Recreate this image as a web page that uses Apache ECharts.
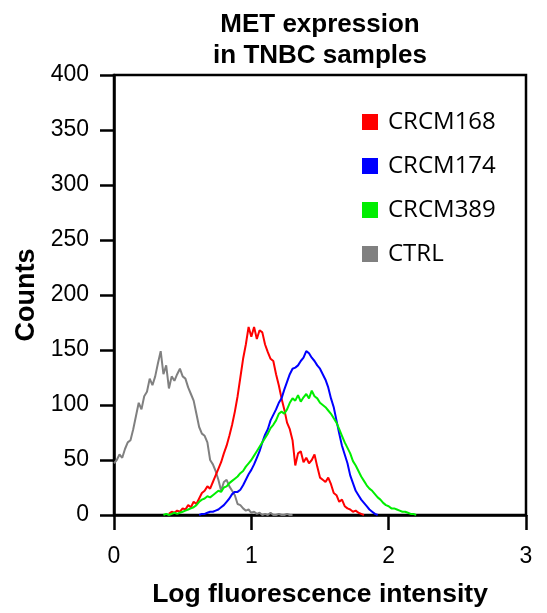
<!DOCTYPE html>
<html>
<head>
<meta charset="utf-8">
<script src="https://cdn.jsdelivr.net/npm/echarts@6/dist/echarts.min.js"></script>
<style>html,body{margin:0;padding:0;background:#fff}#c{width:547px;height:613px}</style>
</head>
<body>
<div id="c"></div>
<script>
// Bin centres on the log fluorescence intensity axis
var bins = [
  0.00,0.02,0.04,0.06,0.08,0.10,0.12,0.14,0.16,0.18,
  0.20,0.22,0.24,0.26,0.28,0.30,0.32,0.34,0.36,0.38,
  0.40,0.42,0.44,0.46,0.48,0.50,0.52,0.54,0.56,0.58,
  0.60,0.62,0.64,0.66,0.68,0.70,0.72,0.74,0.76,0.78,
  0.80,0.82,0.84,0.86,0.88,0.90,0.92,0.94,0.96,0.98,
  1.00,1.02,1.04,1.06,1.08,1.10,1.12,1.14,1.16,1.18,
  1.20,1.22,1.24,1.26,1.28,1.30,1.32,1.34,1.36,1.38,
  1.40,1.42,1.44,1.46,1.48,1.50,1.52,1.54,1.56,1.58,
  1.60,1.62,1.64,1.66,1.68,1.70,1.72,1.74,1.76,1.78,
  1.80,1.82,1.84,1.86,1.88,1.90,1.92,1.94,1.96,1.98,
  2.00,2.02,2.04,2.06,2.08,2.10,2.12,2.14,2.16,2.18,
  2.20
];
var _ = null;
var crcm168 = [
  _,_,_,_,_,_,_,_,_,_,
  _,_,_,_,_,_,_,_,_,_,
  1,3,2,4,3,6,5,9,7,12,
  10,15,20,22,26,24,30,36,42,48,
  56,63,72,82,94,108,125,142,155,171,
  162,171,160,168,166,155,148,142,140,128,
  118,106,96,84,78,68,45,56,58,48,
  52,47,50,55,44,34,32,30,34,28,
  20,18,12,14,8,6,5,3,4,2,
  1,0,_,_,_,_,_,_,_,_,
  _,_,_,_,_,_,_,_,_,_,
  _
];
var crcm174 = [
  _,_,_,_,_,_,_,_,_,_,
  _,_,_,_,_,_,_,_,_,_,
  _,_,_,_,_,_,_,_,_,_,
  _,0,1,1,2,3,3,4,5,7,
  9,12,15,19,21,21,23,27,32,37,
  41,46,52,58,66,73,78,86,91,96,
  102,106,114,121,128,133,134,136,140,143,
  149,147,143,140,136,133,128,123,116,106,
  98,86,74,63,55,47,36,29,22,18,
  14,11,8,5,3,1,0,_,_,_,
  _,_,_,_,_,_,_,_,_,_,
  _
];
var crcm389 = [
  _,_,_,_,_,_,_,_,_,_,
  _,_,_,_,_,_,_,_,0,1,
  0,1,2,1,2,3,4,5,6,7,
  9,12,14,15,17,16,18,20,22,21,
  25,26,29,31,33,35,38,40,44,47,
  50,54,58,62,66,70,74,79,82,86,
  92,94,92,96,102,106,104,109,103,107,
  110,106,113,108,106,102,100,98,95,92,
  88,84,78,72,66,61,56,49,45,40,
  35,31,27,24,22,19,16,14,11,9,
  8,6,6,5,4,3,3,2,1,1,
  0
];
var ctrl = [
  47,50,55,52,60,66,68,78,90,102,
  96,108,112,124,118,126,138,149,128,136,
  115,126,122,128,133,126,124,116,110,104,
  92,80,74,72,66,50,46,40,32,22,
  30,32,26,22,18,10,9,6,4,5,
  2,3,1,2,0,1,0,2,0,0,
  1,0,0,1,0,0,_,_,_,_,
  _,_,_,_,_,_,_,_,_,_,
  _,_,_,_,_,_,_,_,_,_,
  _,_,_,_,_,_,_,_,_,_,
  _,_,_,_,_,_,_,_,_,_,
  _
];
var seriesNames = ['CRCM168','CRCM174','CRCM389','CTRL'];
var seriesColors = ['#ff0000','#0000ff','#00ee00','#808080'];
var seriesValues = [crcm168, crcm174, crcm389, ctrl];
var titleLines = ['MET expression','in TNBC samples'];
var xName = 'Log fluorescence intensity';
var yName = 'Counts';

function pairs(vals){
  var out = [];
  for (var i = 0; i < bins.length; i++) {
    if (vals[i] !== null) out.push([bins[i], vals[i]]);
  }
  return out;
}

var chart = echarts.init(document.getElementById('c'), null, {renderer:'canvas'});
var tickFont = '"Liberation Sans", Arial, sans-serif';
var boldFont = '"Liberation Sans", Arial, sans-serif';
var order = [3,0,1,2];
var series = order.map(function(k){
  return {
    name: seriesNames[k],
    type: 'line',
    data: pairs(seriesValues[k]),
    showSymbol: false,
    symbol: 'none',
    lineStyle: {color: seriesColors[k], width: 2},
    itemStyle: {color: seriesColors[k]},
    animation: false
  };
});
chart.setOption({
  backgroundColor: '#fff',
  animation: false,
  title: {
    text: titleLines.join('\n'),
    left: 315,
    textAlign: 'center',
    top: 4,
    textStyle: {fontFamily: boldFont, fontWeight: 'bold', fontSize: 26, lineHeight: 31, color: '#000'}
  },
  legend: {
    data: seriesNames.map(function(n, i){ return {name: n, icon: 'rect', itemStyle: {color: seriesColors[i]}}; }),
    orient: 'vertical',
    left: 357,
    top: 105,
    itemWidth: 16,
    itemHeight: 16,
    itemGap: 20,
    selectedMode: false,
    textStyle: {fontFamily: '"Open Sans", sans-serif', fontSize: 24, color: '#000', padding: [0,0,0,5]}
  },
  grid: {left: 114, right: 21, top: 75, bottom: 96, show: true, borderColor: '#000', borderWidth: 2.5, containLabel: false},
  xAxis: {
    type: 'value', min: 0, max: 3, interval: 1,
    name: xName, nameLocation: 'middle', nameGap: 66,
    nameTextStyle: {fontFamily: boldFont, fontWeight: 'bold', fontSize: 26.5, color: '#000'},
    axisLine: {show: true, onZero: false, lineStyle: {color: '#000', width: 2.5}},
    axisTick: {show: true, inside: false, length: 15, lineStyle: {color: '#000', width: 2.5}},
    axisLabel: {fontFamily: tickFont, fontSize: 23, color: '#000', margin: 30},
    splitLine: {show: false}
  },
  yAxis: {
    type: 'value', min: 0, max: 400, interval: 50,
    name: yName, nameLocation: 'middle', nameGap: 70, nameRotate: 90,
    nameTextStyle: {fontFamily: boldFont, fontWeight: 'bold', fontSize: 27, color: '#000'},
    axisLine: {show: true, lineStyle: {color: '#000', width: 2.5}},
    axisTick: {show: true, inside: false, length: 14, lineStyle: {color: '#000', width: 2.5}},
    axisLabel: {fontFamily: tickFont, fontSize: 23, color: '#000', margin: 25},
    splitLine: {show: false}
  },
  series: series
});
</script>
</body>
</html>
